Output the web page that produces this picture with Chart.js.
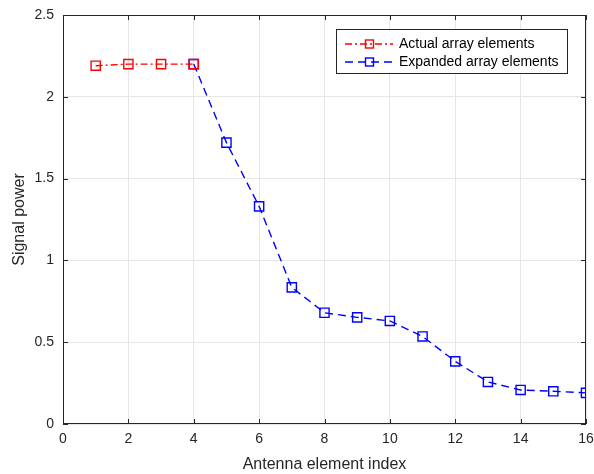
<!DOCTYPE html>
<html>
<head>
<meta charset="utf-8">
<script src="https://cdn.jsdelivr.net/npm/chart.js@4.4.1/dist/chart.umd.min.js"></script>
<style>
  html, body { margin: 0; padding: 0; background: #fff; }
  #wrap { width: 594px; height: 474px; }
</style>
</head>
<body>
<div id="wrap"><canvas id="chart" width="594" height="474"></canvas></div>
<script>
// data
const actualIdx = [1, 2, 3, 4];
const actualPower = [2.19, 2.2, 2.2, 2.2];
const expandedIdx = [4, 5, 6, 7, 8, 9, 10, 11, 12, 13, 14, 15, 16];
const expandedPower = [2.2, 1.72, 1.33, 0.835, 0.68, 0.652, 0.63, 0.535, 0.383, 0.257, 0.208, 0.2, 0.19];
const xTicks = [0, 2, 4, 6, 8, 10, 12, 14, 16];
const yTicks = [0, 0.5, 1, 1.5, 2, 2.5];
const seriesNames = ["Actual array elements", "Expanded array elements"];

const FONT = "'Liberation Sans', Arial, Helvetica, sans-serif";
const AXIS = "#262626";
const RED = "#ff0000";
const BLUE = "#0000ff";
const RED_DASH = [7, 3, 2, 3];
const BLUE_DASH = [8, 5];

function toPoints(xs, ys) {
  return xs.map((x, i) => ({ x: x, y: ys[i] }));
}

// box around the axes + inward ticks, matlab style
const boxPlugin = {
  id: "box",
  afterDatasetsDraw(chart) {
    const { ctx, chartArea: a, scales } = chart;
    ctx.save();
    ctx.strokeStyle = AXIS;
    ctx.lineWidth = 1;
    ctx.strokeRect(a.left + 0.5, a.top + 0.5, a.right - a.left - 1, a.bottom - a.top - 1);
    const len = 5;
    ctx.beginPath();
    xTicks.forEach((v) => {
      const px = Math.round(scales.x.getPixelForValue(v)) + 0.5;
      ctx.moveTo(px, a.bottom); ctx.lineTo(px, a.bottom - len);
      ctx.moveTo(px, a.top); ctx.lineTo(px, a.top + len);
    });
    yTicks.forEach((v) => {
      const py = Math.round(scales.y.getPixelForValue(v)) + 0.5;
      ctx.moveTo(a.left, py); ctx.lineTo(a.left + len, py);
      ctx.moveTo(a.right, py); ctx.lineTo(a.right - len, py);
    });
    ctx.stroke();
    ctx.restore();
  },
};

// legend box in the upper right of the axes
const legendPlugin = {
  id: "boxLegend",
  afterDraw(chart) {
    const { ctx } = chart;
    const x0 = 336, y0 = 29, w = 231, h = 44;
    ctx.save();
    ctx.fillStyle = "#fff";
    ctx.fillRect(x0, y0, w, h);
    ctx.strokeStyle = AXIS;
    ctx.lineWidth = 1;
    ctx.strokeRect(x0 + 0.5, y0 + 0.5, w, h);
    const rows = [
      { color: RED, dash: RED_DASH, y: 44, text: seriesNames[0] },
      { color: BLUE, dash: BLUE_DASH, y: 62, text: seriesNames[1] },
    ];
    rows.forEach((r) => {
      ctx.strokeStyle = r.color;
      ctx.lineWidth = 1.4;
      ctx.setLineDash(r.dash);
      ctx.beginPath();
      ctx.moveTo(345, r.y);
      ctx.lineTo(393, r.y);
      ctx.stroke();
      ctx.setLineDash([]);
      ctx.strokeRect(365.5, r.y - 4, 8, 8);
      ctx.fillStyle = "#000";
      ctx.font = "14px " + FONT;
      ctx.textBaseline = "middle";
      ctx.fillText(r.text, 399, r.y);
    });
    ctx.restore();
  },
};

const ctx = document.getElementById("chart").getContext("2d");
new Chart(ctx, {
  type: "line",
  data: {
    datasets: [
      {
        label: seriesNames[0],
        data: toPoints(actualIdx, actualPower),
        borderColor: RED,
        borderWidth: 1.4,
        borderDash: RED_DASH,
        pointStyle: "rect",
        pointRadius: 6.5,
        pointBorderWidth: 1.4,
        pointBorderColor: RED,
        pointBackgroundColor: "rgba(0,0,0,0)",
        tension: 0,
        fill: false,
      },
      {
        label: seriesNames[1],
        data: toPoints(expandedIdx, expandedPower),
        borderColor: BLUE,
        borderWidth: 1.4,
        borderDash: BLUE_DASH,
        pointStyle: "rect",
        pointRadius: 6.5,
        pointBorderWidth: 1.4,
        pointBorderColor: BLUE,
        pointBackgroundColor: "rgba(0,0,0,0)",
        tension: 0,
        fill: false,
      },
    ],
  },
  options: {
    responsive: false,
    animation: false,
    layout: { padding: { left: 0, right: 8, top: 15, bottom: 0 } },
    plugins: {
      legend: { display: false },
      tooltip: { enabled: false },
    },
    scales: {
      x: {
        type: "linear",
        min: 0,
        max: 16,
        afterBuildTicks: (axis) => { axis.ticks = xTicks.map((v) => ({ value: v })); },
        afterFit: (axis) => { axis.height = 50; axis.paddingRight = 0; axis.paddingLeft = 0; },
        grid: { color: "#e6e6e6", lineWidth: 1, drawTicks: false },
        border: { display: false },
        ticks: { color: AXIS, padding: 7, font: { family: FONT, size: 14 } },
        title: {
          display: true,
          text: "Antenna element index",
          color: AXIS,
          padding: { top: 3, bottom: 0 },
          font: { family: FONT, size: 16 },
        },
      },
      y: {
        type: "linear",
        min: 0,
        max: 2.5,
        afterBuildTicks: (axis) => { axis.ticks = yTicks.map((v) => ({ value: v })); },
        afterFit: (axis) => { axis.width = 63; axis.paddingTop = 0; axis.paddingBottom = 0; },
        grid: { color: "#e6e6e6", lineWidth: 1, drawTicks: false },
        border: { display: false },
        ticks: {
          color: AXIS,
          padding: 9,
          font: { family: FONT, size: 14 },
          callback: (v) => String(v),
        },
        title: {
          display: true,
          text: "Signal power",
          color: AXIS,
          padding: { top: 10, bottom: 4 },
          font: { family: FONT, size: 16 },
        },
      },
    },
  },
  plugins: [boxPlugin, legendPlugin],
});
</script>
</body>
</html>
